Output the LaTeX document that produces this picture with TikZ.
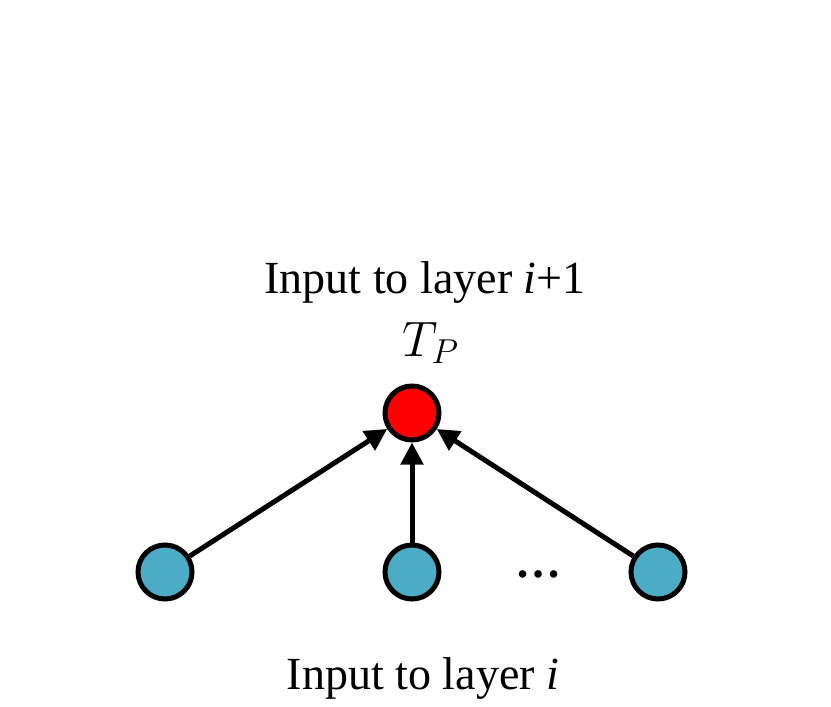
\documentclass[tikz,border=0pt]{standalone}
\usepackage{fontspec}
\setmainfont{Liberation Serif}
\usetikzlibrary{arrows.meta}
\definecolor{cellblue}{RGB}{75,172,198}

\begin{document}
\begin{tikzpicture}[x=0.5pt,y=-0.5pt,
    tok/.style={circle,draw,line width=2.5pt,inner sep=0pt,minimum size=27pt,fill=cellblue},
    pooled/.style={tok,fill=red},
    arr/.style={line width=2.5pt,-{Triangle[length=11pt,width=11pt]}},
    lbl/.style={font=\fontsize{23}{28}\selectfont,anchor=base}]
    \useasboundingbox (0,0) rectangle (831,707);
    %\draw[help lines] (0,0) grid (831,707);
    \node[pooled] (p) at (412,413) {};
    \node[tok] (t1) at (165,572) {};
    \node[tok] (t2) at (412,572) {};
    \node[tok] (t3) at (658,572) {};
    \node[lbl,font=\fontsize{23}{28}\selectfont\bfseries] (dots) at (538,577) {…};
    \node[lbl] (top) at (425,293) {Input to layer \textit{i}+1};
    \node[anchor=base,font=\fontsize{25.5}{30}\selectfont] (tp) at (431,356) {$T_P$};
    \node[lbl] (bot) at (423,689) {Input to layer \textit{i}};
    \path (t1) edge[arr] (p)
          (t2) edge[arr] (p)
          (t3) edge[arr] (p);
\end{tikzpicture}
\end{document}
